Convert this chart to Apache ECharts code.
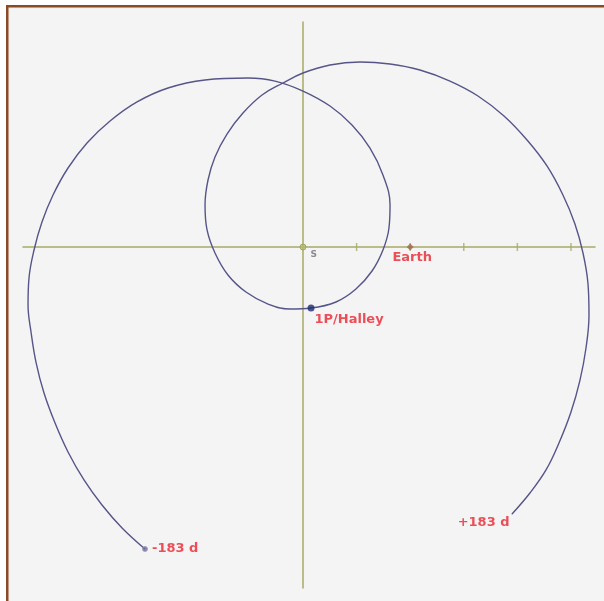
<!DOCTYPE html>
<html>
<head>
<meta charset="utf-8">
<script src="https://cdn.jsdelivr.net/npm/echarts@6/dist/echarts.min.js"></script>
<style>html,body{margin:0;padding:0;background:#fff;}#c{width:604px;height:601px;}</style>
</head>
<body>
<div id="c"></div>
<script>
// Halley path relative to Sun (origin) in a frame where Earth stays on the x axis (AU)
const pathX = [-1.474,-1.688,-1.875,-2.043,-2.192,-2.313,-2.416,-2.491,-2.537,-2.565,-2.556,-2.509,-2.435,-2.332,-2.192,-2.015,-1.800,-1.548,-1.259,-0.914,-0.513,-0.261,0.000,0.252,0.457,0.625,0.746,0.812,0.802,0.746,0.644,0.494,0.308,0.075,-0.121,-0.326,-0.532,-0.700,-0.821,-0.895,-0.914,-0.886,-0.821,-0.709,-0.560,-0.382,-0.187,0.000,0.252,0.532,0.812,1.091,1.371,1.632,1.875,2.090,2.276,2.425,2.537,2.612,2.658,2.668,2.640,2.584,2.500,2.388,2.267,2.117,1.950];
const pathY = [-2.817,-2.621,-2.407,-2.173,-1.912,-1.642,-1.362,-1.073,-0.793,-0.541,-0.289,-0.028,0.233,0.485,0.737,0.970,1.175,1.353,1.483,1.558,1.576,1.548,1.455,1.315,1.138,0.923,0.672,0.392,0.177,-0.028,-0.224,-0.392,-0.513,-0.569,-0.578,-0.532,-0.420,-0.261,-0.056,0.159,0.392,0.625,0.840,1.054,1.250,1.418,1.530,1.623,1.698,1.726,1.707,1.651,1.548,1.409,1.222,0.998,0.756,0.485,0.215,-0.056,-0.336,-0.634,-0.942,-1.241,-1.539,-1.828,-2.080,-2.295,-2.491];
const tickValues = [0.5, 1.0, 1.5, 2.0, 2.5];
const sunPos = [0, 0];
const earthPos = [1.0, 0];
const halleyPos = [0.075, -0.569];
const startLabel = '-183 d';
const endLabel = '+183 d';
const xRange = [-2.612, 2.724];
const yRange = [-3.181, 2.099];

const path = pathX.map((x, i) => [x, pathY[i]]);
const red = '#e8242f';
const olive = '#a7aa66';
const lineColor = '#55558a';
const labelFont = {fontFamily: 'DejaVu Sans', fontWeight: 'bold', fontSize: 13, color: red};

const chart = echarts.init(document.getElementById('c'), null, {renderer: 'canvas'});
chart.setOption({
  animation: false,
  backgroundColor: '#ffffff',
  graphic: [
    {type: 'rect', shape: {x: 6, y: 5, width: 598, height: 596}, style: {fill: '#8b4a26'}, z: -10},
    {type: 'rect', shape: {x: 8.5, y: 7.5, width: 596, height: 594}, style: {fill: '#efece4'}, z: -9},
    {type: 'rect', shape: {x: 9.5, y: 8.5, width: 595, height: 593}, style: {fill: '#f4f4f4'}, z: -8}
  ],
  grid: {left: 23, top: 22, width: 572, height: 566, containLabel: false},
  xAxis: {
    type: 'value', min: xRange[0], max: xRange[1],
    axisLine: {show: true, onZero: true, lineStyle: {color: olive, width: 1.5}},
    axisTick: {show: false}, axisLabel: {show: false}, splitLine: {show: false}
  },
  yAxis: {
    type: 'value', min: yRange[0], max: yRange[1],
    axisLine: {show: true, onZero: true, lineStyle: {color: olive, width: 1.5}},
    axisTick: {show: false}, axisLabel: {show: false}, splitLine: {show: false}
  },
  series: [
    {
      type: 'scatter', symbol: 'rect', symbolSize: [1.5, 8],
      itemStyle: {color: olive}, silent: true, z: 1,
      data: tickValues.map(v => [v, 0])
    },
    {
      type: 'line', data: path, showSymbol: false, smooth: 0.4,
      lineStyle: {color: lineColor, width: 1.4}, z: 2
    },
    {
      type: 'scatter', z: 3,
      data: [
        {value: sunPos, symbol: 'circle', symbolSize: 6, itemStyle: {color: '#b5b86e', borderColor: '#9a9d55', borderWidth: 1},
          label: {show: true, formatter: 'S', position: 'right', distance: 4, offset: [0, 8], fontFamily: 'DejaVu Sans', fontWeight: 'bold', fontSize: 9, color: '#707078'}},
        {value: earthPos, symbol: 'diamond', symbolSize: 7, itemStyle: {color: '#9a6a4a'},
          label: Object.assign({show: true, formatter: 'Earth', position: 'bottom', distance: 1, offset: [2, 0]}, labelFont)},
        {value: halleyPos, symbol: 'circle', symbolSize: 7, itemStyle: {color: '#1e2a6e'},
          label: Object.assign({show: true, formatter: '1P/Halley', position: 'bottom', distance: 2, offset: [38, 0]}, labelFont)},
        {value: path[0], symbol: 'circle', symbolSize: 5, itemStyle: {color: '#6a6a9a', borderColor: '#9a9ab8', borderWidth: 1},
          label: Object.assign({show: true, formatter: startLabel, position: 'right', distance: 4}, labelFont)},
        {value: path[path.length - 1], symbol: 'circle', symbolSize: 1, itemStyle: {color: lineColor},
          label: Object.assign({show: true, formatter: endLabel, position: 'left', distance: 2, offset: [0, 9]}, labelFont)}
      ]
    }
  ]
});
</script>
</body>
</html>
